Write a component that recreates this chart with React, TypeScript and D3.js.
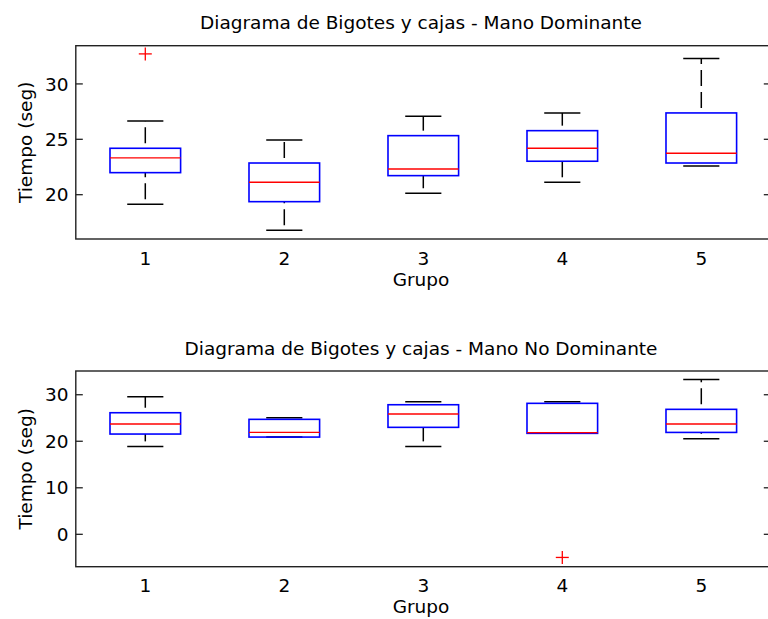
import React from 'react';
import * as d3 from 'd3';

const grupos = [1, 2, 3, 4, 5];

// Mano Dominante
const domLow = [19.13, 16.78, 20.13, 21.12, 22.59];
const domQ1 = [21.99, 19.37, 21.72, 23.02, 22.86];
const domMed = [23.32, 21.12, 22.32, 24.19, 23.74];
const domQ3 = [24.19, 22.86, 25.33, 25.78, 27.38];
const domHigh = [26.66, 24.94, 27.08, 27.38, 32.29];
const domOutGroup = [1];
const domOutValue = [32.71];
const domTicks = [20, 25, 30];

// Mano No Dominante
const ndLow = [18.9, 20.9, 18.9, 21.7, 20.54];
const ndQ1 = [21.55, 20.9, 22.99, 21.7, 21.9];
const ndMed = [23.7, 21.91, 25.85, 21.85, 23.7];
const ndQ3 = [26.13, 24.71, 27.85, 28.15, 26.86];
const ndHigh = [29.57, 25.05, 28.5, 28.5, 33.3];
const ndOutGroup = [4];
const ndOutValue = [-4.97];
const ndTicks = [0, 10, 20, 30];

const FONT = '"DejaVu Sans", Arial, sans-serif';
const FS = 18.5;

type PanelProps = {
  title: string;
  top: number;
  bottom: number;
  yDomain: [number, number];
  ticks: number[];
  low: number[];
  q1: number[];
  med: number[];
  q3: number[];
  high: number[];
  outG: number[];
  outV: number[];
  titleY: number;
  tickLabelY: number;
  xlabelY: number;
};

function Panel(p: PanelProps) {
  const left = 75.8;
  const right = 770.8;
  const x = d3.scaleLinear().domain([0.5, 5.5]).range([left, right]);
  const y = d3.scaleLinear().domain(p.yDomain).range([p.bottom, p.top]);
  const bw = 0.254;
  const cw = 0.13;
  const dash = '16 6';
  return (
    <g>
      <text x={421} y={p.titleY} textAnchor="middle" fontFamily={FONT} fontSize={FS} fill="#000">
        {p.title}
      </text>
      {/* whiskers and caps */}
      {grupos.map((g, i) => (
        <g key={'w' + i} stroke="#000" strokeWidth={1.5} fill="none">
          {p.high[i] > p.q3[i] && (
            <line x1={x(g)} x2={x(g)} y1={y(p.q3[i])} y2={y(p.high[i])} strokeDasharray={dash} strokeDashoffset={17} />
          )}
          {p.low[i] < p.q1[i] && (
            <line x1={x(g)} x2={x(g)} y1={y(p.low[i])} y2={y(p.q1[i])} strokeDasharray={dash} strokeDashoffset={17} />
          )}
          <line x1={x(g - cw)} x2={x(g + cw)} y1={y(p.high[i])} y2={y(p.high[i])} />
          <line x1={x(g - cw)} x2={x(g + cw)} y1={y(p.low[i])} y2={y(p.low[i])} />
        </g>
      ))}
      {/* boxes */}
      {grupos.map((g, i) => (
        <rect
          key={'b' + i}
          x={x(g - bw)}
          y={y(p.q3[i])}
          width={x(g + bw) - x(g - bw)}
          height={y(p.q1[i]) - y(p.q3[i])}
          fill="none"
          stroke="#0000ff"
          strokeWidth={1.6}
        />
      ))}
      {/* medians */}
      {grupos.map((g, i) => (
        <line
          key={'m' + i}
          x1={x(g - bw)}
          x2={x(g + bw)}
          y1={y(p.med[i])}
          y2={y(p.med[i])}
          stroke="#ff0000"
          strokeWidth={1.4}
        />
      ))}
      {/* outliers */}
      {p.outG.map((g, i) => (
        <g key={'o' + i} stroke="#ff0000" strokeWidth={1.3}>
          <line x1={x(g) - 6.5} x2={x(g) + 6.5} y1={y(p.outV[i])} y2={y(p.outV[i])} />
          <line x1={x(g)} x2={x(g)} y1={y(p.outV[i]) - 6.5} y2={y(p.outV[i]) + 6.5} />
        </g>
      ))}
      {/* axes box */}
      <rect x={left} y={p.top} width={right - left} height={p.bottom - p.top} fill="none" stroke="#222" strokeWidth={1.4} />
      {/* y ticks */}
      {p.ticks.map((t) => (
        <g key={'t' + t}>
          <line x1={left} x2={left + 7} y1={y(t)} y2={y(t)} stroke="#222" strokeWidth={1.3} />
          <line x1={right - 7} x2={right} y1={y(t)} y2={y(t)} stroke="#222" strokeWidth={1.3} />
          <text x={68.5} y={y(t)} dy="0.36em" textAnchor="end" fontFamily={FONT} fontSize={FS} fill="#000">
            {t}
          </text>
        </g>
      ))}
      {/* x tick labels */}
      {grupos.map((g) => (
        <text key={'x' + g} x={x(g)} y={p.tickLabelY} textAnchor="middle" fontFamily={FONT} fontSize={FS} fill="#000">
          {g}
        </text>
      ))}
      <text x={421} y={p.xlabelY} textAnchor="middle" fontFamily={FONT} fontSize={FS} fill="#000">
        Grupo
      </text>
      <text
        transform={`translate(32,${(p.top + p.bottom) / 2}) rotate(-90)`}
        textAnchor="middle"
        fontFamily={FONT}
        fontSize={FS}
        fill="#000"
      >
        Tiempo (seg)
      </text>
    </g>
  );
}

export default function App() {
  return (
    <svg
      width={768}
      height={619}
      style={{ position: 'absolute', left: 0, top: 0, background: '#fff' }}
    >
      <rect x={0} y={0} width={768} height={619} fill="#fff" />
      <Panel
        title="Diagrama de Bigotes y cajas - Mano Dominante"
        top={45.7}
        bottom={239}
        yDomain={[16.0, 33.45]}
        ticks={domTicks}
        low={domLow}
        q1={domQ1}
        med={domMed}
        q3={domQ3}
        high={domHigh}
        outG={domOutGroup}
        outV={domOutValue}
        titleY={29}
        tickLabelY={265}
        xlabelY={286}
      />
      <Panel
        title="Diagrama de Bigotes y cajas - Mano No Dominante"
        top={371}
        bottom={566.7}
        yDomain={[-6.96, 35.1]}
        ticks={ndTicks}
        low={ndLow}
        q1={ndQ1}
        med={ndMed}
        q3={ndQ3}
        high={ndHigh}
        outG={ndOutGroup}
        outV={ndOutValue}
        titleY={355}
        tickLabelY={592}
        xlabelY={613}
      />
    </svg>
  );
}
